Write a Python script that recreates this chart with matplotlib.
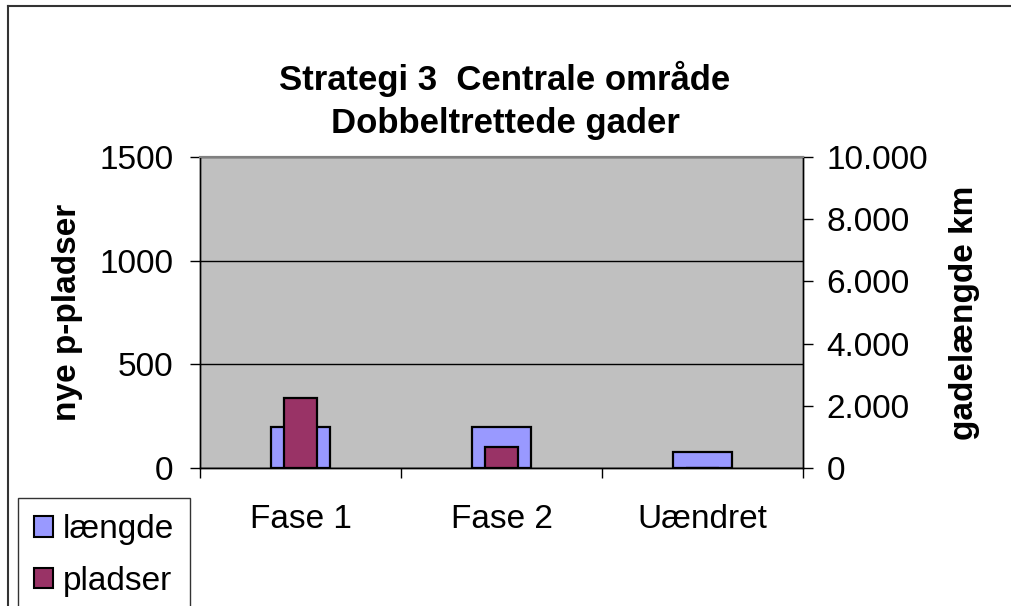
import matplotlib
matplotlib.use("Agg")
import matplotlib.pyplot as plt
from matplotlib.patches import Patch
from matplotlib.lines import Line2D
from matplotlib.ticker import FuncFormatter, FixedLocator

plt.rcParams['font.family'] = ['Liberation Sans', 'DejaVu Sans']

categories = ["Fase 1", "Fase 2", "Uændret"]
laengde = [1330, 1330, 500]      # gadelængde km (right axis)
pladser = [340, 100, 0]          # nye p-pladser (left axis)
left_ticks = [0, 500, 1000, 1500]
right_ticks = [0, 2000, 4000, 6000, 8000, 10000]
title = "Strategi 3  Centrale område\nDobbeltrettede gader"

W, H = 1011, 606
fig = plt.figure(figsize=(W / 100, H / 100), dpi=100)
fig.patch.set_facecolor("white")

ax = fig.add_axes([200 / W, 1 - 468 / H, 603 / W, 311 / H])
ax2 = ax.twinx()
ax.set_zorder(2)
ax2.set_zorder(1)
ax.patch.set_visible(False)
ax2.patch.set_visible(True)
ax2.patch.set_facecolor("#C0C0C0")

x = list(range(len(categories)))
ax2.bar(x, laengde, width=0.29, color="#9999FF", edgecolor="black", linewidth=1.6, zorder=3)
ax.bar(x, pladser, width=0.16, color="#993366", edgecolor="black", linewidth=1.6, zorder=3)

ax.set_xlim(-0.5, len(categories) - 0.5)
ax.set_ylim(0, 1500)
ax2.set_ylim(0, 10000)

ax.yaxis.set_major_locator(FixedLocator(left_ticks))
ax2.yaxis.set_major_locator(FixedLocator(right_ticks))
ax2.yaxis.set_major_formatter(FuncFormatter(lambda v, p: f"{int(v):,}".replace(",", ".")))

ax.yaxis.grid(True, color="black", linewidth=1.0)
for gl in ax.get_ygridlines():
    gl.set_zorder(1)

ax.set_xticks(x)
ax.set_xticklabels(categories)
ax.set_xticks([i - 0.5 for i in range(len(categories) + 1)], minor=True)
ax.tick_params(axis="x", which="major", length=0, pad=26, labelsize=24)
ax.tick_params(axis="x", which="minor", length=7, width=1, direction="out")
ax.tick_params(axis="y", length=7, width=1, direction="out", labelsize=24, pad=12)
ax2.tick_params(axis="y", length=7, width=1, direction="out", labelsize=24, pad=10)
ax2.tick_params(axis="x", length=0)

for a in (ax, ax2):
    for s in ("left", "right", "bottom"):
        a.spines[s].set_color("black")
        a.spines[s].set_linewidth(1.0)
    a.spines["top"].set_color("#808080")
    a.spines["top"].set_linewidth(1.5)

ax.set_ylabel("nye p-pladser", fontsize=24, fontweight="bold", labelpad=12)
ax2.set_ylabel("gadelængde km", fontsize=24, fontweight="bold", labelpad=15)

fig.text(505 / W, 1 - 100 / H, title, ha="center", va="center", fontsize=25,
         fontweight="bold", linespacing=1.38)

# chart border (top and left)
fig.add_artist(Line2D([8 / W, 1.0], [1 - 6 / H, 1 - 6 / H], color="#333333", lw=1.5))
fig.add_artist(Line2D([8 / W, 8 / W], [0, 1 - 6 / H], color="#333333", lw=1.5))

handles = [Patch(facecolor="#9999FF", edgecolor="black", linewidth=1.5),
           Patch(facecolor="#993366", edgecolor="black", linewidth=1.5)]
leg = fig.legend(handles, ["længde", "pladser"], loc="upper left",
                 bbox_to_anchor=(18 / W, 1 - 498 / H), fontsize=24,
                 frameon=True, fancybox=False, edgecolor="black",
                 borderaxespad=0, handlelength=0.58, handleheight=0.58,
                 handletextpad=0.28, labelspacing=0.62, borderpad=0.48)
leg.get_frame().set_linewidth(1.0)

fig.savefig("out.png", dpi=100)
